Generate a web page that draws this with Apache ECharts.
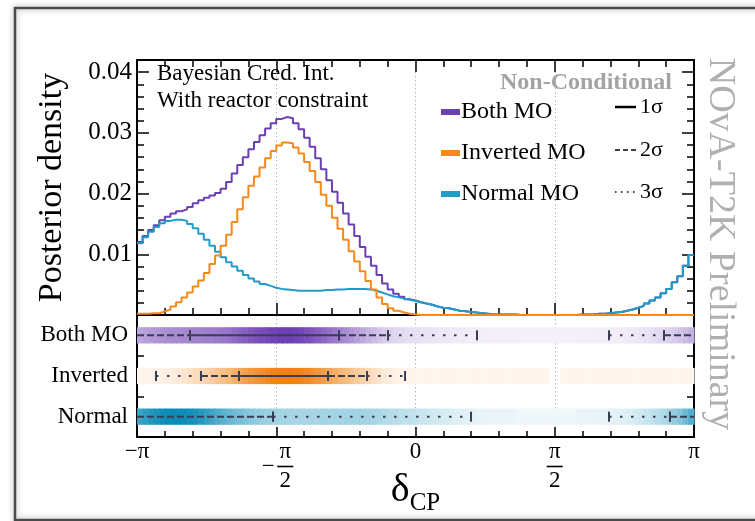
<!DOCTYPE html>
<html>
<head>
<meta charset="utf-8">
<script src="https://cdn.jsdelivr.net/npm/echarts@6/dist/echarts.min.js"></script>
<style>
  html, body { margin: 0; padding: 0; background: #fff; }
  #chart { width: 755px; height: 521px; }
</style>
</head>
<body>
<div id="chart"></div>
<script>
// 100 bins over [-pi, pi]
const N_BINS = 100
const BIN_W = 2 * Math.PI / N_BINS
const binEdges = Array.from({ length: N_BINS + 1 }, (_, i) => -Math.PI + i * BIN_W)

// posterior density per bin
const bothMO = [
  0.0120, 0.0130, 0.0140, 0.0148, 0.0156, 0.0162, 0.0167, 0.0171, 0.0174, 0.0178,
  0.0184, 0.0189, 0.0193, 0.0197, 0.0201, 0.0208, 0.0219, 0.0233, 0.0247, 0.0260,
  0.0273, 0.0285, 0.0296, 0.0307, 0.0316, 0.0323, 0.0326, 0.0324, 0.0316, 0.0306,
  0.0292, 0.0277, 0.0258, 0.0240, 0.0222, 0.0203, 0.0185, 0.0167, 0.0149, 0.0130,
  0.0112, 0.0096, 0.0081, 0.0066, 0.0052, 0.0042, 0.0035, 0.0030, 0.0026, 0.0024,
  0.0021, 0.0019, 0.0017, 0.0014, 0.0012, 0.0011, 0.0009, 0.0007, 0.0006, 0.0005,
  0.0004, 0.0003, 0.0002, 0.0001, 0.0001, 0.0001, 0.0001, 0.0001, 0.0000, 0.0000,
  0.0000, 0.0000, 0.0000, 0.0000, 0.0000, 0.0000, 0.0000, 0.0000, 0.0000, 0.0001,
  0.0001, 0.0001, 0.0002, 0.0002, 0.0003, 0.0004, 0.0005, 0.0007, 0.0009, 0.0012,
  0.0015, 0.0019, 0.0024, 0.0029, 0.0036, 0.0043, 0.0054, 0.0064, 0.0081, 0.0099
]
const invertedMO = [
  0.0002, 0.0002, 0.0003, 0.0003, 0.0006, 0.0009, 0.0014, 0.0021, 0.0029, 0.0037,
  0.0047, 0.0057, 0.0069, 0.0084, 0.0098, 0.0114, 0.0132, 0.0153, 0.0174, 0.0194,
  0.0213, 0.0228, 0.0243, 0.0258, 0.0270, 0.0279, 0.0284, 0.0283, 0.0276, 0.0266,
  0.0252, 0.0237, 0.0219, 0.0198, 0.0180, 0.0160, 0.0142, 0.0124, 0.0105, 0.0088,
  0.0072, 0.0056, 0.0042, 0.0029, 0.0018, 0.0011, 0.0007, 0.0004, 0.0002, 0.0001,
  0, 0, 0, 0, 0, 0, 0, 0, 0, 0,
  0, 0, 0, 0, 0, 0, 0, 0, 0, 0,
  0, 0, 0, 0, 0, 0, 0, 0, 0, 0,
  0, 0, 0, 0, 0, 0, 0, 0, 0, 0,
  0, 0, 0, 0, 0, 0, 0, 0, 0, 0
]
const normalMO = [
  0.0118, 0.0128, 0.0137, 0.0145, 0.0151, 0.0155, 0.0157, 0.0157, 0.0155, 0.0150,
  0.0143, 0.0134, 0.0124, 0.0114, 0.0104, 0.0095, 0.0087, 0.0080, 0.0073, 0.0066,
  0.0060, 0.0055, 0.0051, 0.0048, 0.0045, 0.0043, 0.0042, 0.0041, 0.0040, 0.0040,
  0.0040, 0.0040, 0.0040, 0.0041, 0.0041, 0.0042, 0.0042, 0.0043, 0.0043, 0.0043,
  0.0043, 0.0042, 0.0040, 0.0037, 0.0034, 0.0031, 0.0029, 0.0027, 0.0025, 0.0023,
  0.0021, 0.0019, 0.0017, 0.0014, 0.0012, 0.0011, 0.0009, 0.0007, 0.0006, 0.0005,
  0.0004, 0.0003, 0.0002, 0.0001, 0.0001, 0.0001, 0.0001, 0.0001, 0.0000, 0.0000,
  0.0000, 0.0000, 0.0000, 0.0000, 0.0000, 0.0000, 0.0000, 0.0000, 0.0000, 0.0001,
  0.0001, 0.0001, 0.0002, 0.0002, 0.0003, 0.0004, 0.0005, 0.0007, 0.0009, 0.0012,
  0.0015, 0.0019, 0.0024, 0.0029, 0.0036, 0.0043, 0.0054, 0.0064, 0.0081, 0.0099
]

// bins left blank in the Inverted band (gap near pi/2)
const invertedBandGap = [74, 75]

// rows of the lower panel, bottom to top
const rowNames = ['Normal', 'Inverted', 'Both MO']

// credible interval pieces: [from, to, sigma]
const bothIntervals = [
  [-Math.PI, -2.544, 2], [-2.544, -0.863, 1], [-0.863, -0.310, 2], [-0.310, 0.694, 3],
  [2.183, 2.803, 3], [2.803, Math.PI, 2]
]
const invertedIntervals = [
  [-2.927, -2.420, 3], [-2.420, -1.991, 2], [-1.991, -0.987, 1], [-0.987, -0.547, 2], [-0.547, -0.118, 3]
]
const normalIntervals = [
  [-Math.PI, -1.607, 2], [-1.607, 0.626, 3], [2.183, 2.871, 3], [2.871, Math.PI, 2]
]

// x tick labels at -pi, -pi/2, 0, pi/2, pi
const xTickLabels = [
  '−π',
  '{sp|}{n|π}\n{m|−}{bar|}\n{sp|}{d|2}',
  '0',
  '{n|π}\n{bar|}\n{d|2}',
  'π'
]
const yTickLabels = ['0.01', '0.02', '0.03', '0.04']

const SERIF = '"Liberation Serif", "DejaVu Serif", serif'
const COLORS = { both: '#6b40b2', inverted: '#f7891c', normal: '#1f9cc8' }
const BAND_RGB = { both: [110, 62, 180], inverted: [242, 128, 14], normal: [10, 140, 182] }
const CI_COLOR = '#3b3d55'

const chart = echarts.init(document.getElementById('chart'), null, { renderer: 'canvas' })

/**
 * histogram outline points for step:'end'
 */
function stepData(values) {
  const pts = values.map((v, i) => [binEdges[i], v])
  pts.push([Math.PI, values[values.length - 1]])
  return pts
}

/**
 * band cells for one row
 */
function bandData(values, row, gaps) {
  const max = Math.max(...values)
  const out = []
  values.forEach((v, i) => {
    if (gaps && gaps.includes(i)) return
    out.push([binEdges[i], binEdges[i + 1], row, v / max])
  })
  return out
}

// blend the base colour with white, opaque so neighbouring cells do not show seams
function tint(rgb, a) {
  const c = rgb.map(ch => Math.round(255 - (255 - ch) * a))
  return `rgb(${c[0]},${c[1]},${c[2]})`
}

function bandSeries(name, values, row, rgb, gaps) {
  return {
    name: name + ' band',
    type: 'custom',
    xAxisIndex: 2,
    yAxisIndex: 4,
    silent: true,
    data: bandData(values, row, gaps),
    renderItem: (params, api) => {
      const p0 = api.coord([api.value(0), api.value(2)])
      const p1 = api.coord([api.value(1), api.value(2)])
      const h = api.size([0, 1])[1] * 0.4
      const a = 0.07 + 0.93 * Math.pow(api.value(3), 0.85)
      return {
        type: 'rect',
        shape: { x: p0[0], y: p0[1] - h / 2, width: p1[0] - p0[0] + 0.6, height: h },
        style: { fill: tint(rgb, a) }
      }
    }
  }
}

function intervalSeries(pieces, row) {
  return {
    type: 'custom',
    xAxisIndex: 2,
    yAxisIndex: 4,
    silent: true,
    z: 5,
    data: pieces.map(p => [p[0], p[1], row, p[2]]),
    renderItem: (params, api) => {
      const lo = api.value(0)
      const hi = api.value(1)
      const p0 = api.coord([lo, api.value(2)])
      const p1 = api.coord([hi, api.value(2)])
      const sigma = api.value(3)
      const dash = sigma === 1 ? null : (sigma === 2 ? [7, 3] : [2.5, 8.5])
      const children = [{
        type: 'line',
        shape: { x1: p0[0], y1: p0[1], x2: p1[0], y2: p1[1] },
        style: { stroke: CI_COLOR, lineWidth: 2, lineDash: dash }
      }]
      const cap = 5
      if (lo > -Math.PI + 1e-6) {
        children.push({ type: 'line', shape: { x1: p0[0], y1: p0[1] - cap, x2: p0[0], y2: p0[1] + cap }, style: { stroke: CI_COLOR, lineWidth: 2 } })
      }
      if (hi < Math.PI - 1e-6) {
        children.push({ type: 'line', shape: { x1: p1[0], y1: p1[1] - cap, x2: p1[0], y2: p1[1] + cap }, style: { stroke: CI_COLOR, lineWidth: 2 } })
      }
      return { type: 'group', children }
    }
  }
}

function histSeries(name, values, color) {
  return {
    name,
    type: 'line',
    xAxisIndex: 0,
    yAxisIndex: 1,
    step: 'end',
    symbol: 'none',
    color,
    lineStyle: { width: 2, color },
    data: stepData(values)
  }
}

const axisLineStyle = { show: true, onZero: false, lineStyle: { color: '#000', width: 2 } }
const noAxisLine = { show: false, onZero: false }
const dottedGrid = { show: true, showMinLine: false, showMaxLine: false, lineStyle: { color: '#b8b8b8', type: [1.5, 2.5], width: 1 } }

function xAxisBase(gridIndex, position, major, minor) {
  return {
    type: 'value',
    gridIndex,
    position,
    min: -Math.PI,
    max: Math.PI,
    interval: Math.PI / 2,
    axisLine: axisLineStyle,
    axisTick: { show: true, inside: true, length: major, lineStyle: { color: '#000', width: 1.5 } },
    minorTick: { show: true, splitNumber: 5, length: minor, lineStyle: { color: '#000', width: 1.5 } },
    axisLabel: { show: false },
    splitLine: { show: false }
  }
}

function yAxisDensity(position, interval, tickLen, withLabels) {
  return {
    type: 'value',
    gridIndex: 0,
    position,
    min: 0,
    max: 0.042,
    interval,
    axisLine: interval === 0.01 ? axisLineStyle : noAxisLine,
    axisTick: { show: true, inside: true, length: tickLen, lineStyle: { color: '#000', width: 1.5 } },
    splitLine: { show: false },
    axisLabel: withLabels ? {
      show: true,
      margin: 5,
      fontFamily: SERIF,
      fontSize: 25,
      color: '#000',
      showMaxLabel: false,
      formatter: v => {
        const k = Math.round(v / 0.01)
        return (k >= 1 && k <= 4 && Math.abs(v - k * 0.01) < 1e-9) ? yTickLabels[k - 1] : ''
      }
    } : { show: false }
  }
}

const xBottom = xAxisBase(1, 'bottom', 10, 6)
xBottom.splitLine = dottedGrid
xBottom.axisLabel = {
  show: true,
  showMinLabel: true,
  showMaxLabel: true,
  margin: 3,
  fontFamily: SERIF,
  fontSize: 23,
  lineHeight: 24,
  color: '#000',
  formatter: v => xTickLabels[Math.round((v + Math.PI) / (Math.PI / 2))] || '',
  rich: {
    n: { fontFamily: SERIF, fontSize: 23, lineHeight: 24, width: 16, align: 'center' },
    d: { fontFamily: SERIF, fontSize: 23, lineHeight: 24, width: 16, align: 'center' },
    bar: { width: 16, height: 1.6, backgroundColor: '#000', lineHeight: 5 },
    m: { fontFamily: SERIF, fontSize: 23, width: 18, lineHeight: 5, align: 'center' },
    sp: { width: 18 }
  }
}
xBottom.name = '{d|δ}{s|CP}'
xBottom.nameLocation = 'middle'
xBottom.nameGap = 33
xBottom.nameMoveOverlap = false
xBottom.nameTextStyle = {
  rich: {
    d: { fontFamily: SERIF, fontSize: 40, color: '#000', verticalAlign: 'bottom', padding: [0, 0, 6, 0] },
    s: { fontFamily: SERIF, fontSize: 25, color: '#000', verticalAlign: 'bottom' }
  }
}

const xTop0 = xAxisBase(0, 'bottom', 12, 7)
xTop0.splitLine = dottedGrid
const xTop1 = xAxisBase(0, 'top', 12, 7)

const yMajorLeft = yAxisDensity('left', 0.01, 12, true)
yMajorLeft.name = 'Posterior density'
yMajorLeft.nameLocation = 'middle'
yMajorLeft.nameGap = 68
yMajorLeft.nameMoveOverlap = false
yMajorLeft.nameTextStyle = { fontFamily: SERIF, fontSize: 34, color: '#000' }

const option = {
  backgroundColor: '#fff',
  animation: false,
  grid: [
    { left: 137, top: 60, width: 557, height: 255 },
    { left: 137, top: 315, width: 557, height: 122 }
  ],
  xAxis: [xTop0, xTop1, xBottom],
  yAxis: [
    yAxisDensity('left', 0.002, 7, false),
    yMajorLeft,
    yAxisDensity('right', 0.002, 7, false),
    yAxisDensity('right', 0.01, 12, false),
    {
      type: 'category',
      gridIndex: 1,
      position: 'left',
      data: rowNames,
      axisLine: axisLineStyle,
      axisTick: { show: true, inside: true, length: 7, alignWithLabel: false, lineStyle: { color: '#000', width: 1.5 } },
      axisLabel: { margin: 9, fontFamily: SERIF, fontSize: 23, color: '#000' },
      splitLine: { show: false }
    },
    {
      type: 'category',
      gridIndex: 1,
      position: 'right',
      data: rowNames,
      axisLine: axisLineStyle,
      axisTick: { show: true, inside: true, length: 7, alignWithLabel: false, lineStyle: { color: '#000', width: 1.5 } },
      axisLabel: { show: false },
      splitLine: { show: false }
    }
  ],
  legend: {
    data: ['Both MO', 'Inverted MO', 'Normal MO'],
    orient: 'vertical',
    left: 436,
    top: 95,
    icon: 'rect',
    itemWidth: 19,
    itemHeight: 6,
    itemGap: 17,
    textStyle: { fontFamily: SERIF, fontSize: 24, color: '#000', padding: [0, 0, 0, -4] }
  },
  series: [
    histSeries('Both MO', bothMO, COLORS.both),
    histSeries('Normal MO', normalMO, COLORS.normal),
    histSeries('Inverted MO', invertedMO, COLORS.inverted),
    bandSeries('Both MO', bothMO, 2, BAND_RGB.both),
    bandSeries('Inverted MO', invertedMO, 1, BAND_RGB.inverted, invertedBandGap),
    bandSeries('Normal MO', normalMO, 0, BAND_RGB.normal),
    intervalSeries(bothIntervals, 2),
    intervalSeries(invertedIntervals, 1),
    intervalSeries(normalIntervals, 0)
  ],
  graphic: [
    // window frame
    {
      type: 'rect', z: -10, silent: true,
      shape: { x: 15, y: 8, width: 760, height: 512 },
      style: { fill: 'none', stroke: '#4a4a4a', lineWidth: 2.5, shadowBlur: 6, shadowColor: 'rgba(0,0,0,0.35)' }
    },
    { type: 'text', left: 157, top: 62, style: { text: 'Bayesian Cred. Int.', fontFamily: SERIF, fontSize: 23, fill: '#000' } },
    { type: 'text', left: 157, top: 89, style: { text: 'With reactor constraint', fontFamily: SERIF, fontSize: 23, fill: '#000' } },
    { type: 'text', right: 83, top: 71, style: { text: 'Non-Conditional', fontFamily: SERIF, fontSize: 24, fontWeight: 'bold', fill: '#a3a3a3' } },
    // sigma legend
    { type: 'line', shape: { x1: 615, y1: 107, x2: 636, y2: 107 }, style: { stroke: '#000', lineWidth: 2.5 } },
    { type: 'line', shape: { x1: 615, y1: 150, x2: 636, y2: 150 }, style: { stroke: '#000', lineWidth: 1.5, lineDash: [5, 3] } },
    { type: 'line', shape: { x1: 615, y1: 192, x2: 636, y2: 192 }, style: { stroke: '#000', lineWidth: 1.5, lineDash: [1.5, 4.5] } },
    { type: 'text', left: 640, top: 96, style: { text: '1σ', fontFamily: SERIF, fontSize: 22, fill: '#000' } },
    { type: 'text', left: 640, top: 139, style: { text: '2σ', fontFamily: SERIF, fontSize: 22, fill: '#000' } },
    { type: 'text', left: 640, top: 181, style: { text: '3σ', fontFamily: SERIF, fontSize: 22, fill: '#000' } },
    {
      type: 'text', x: 720, y: 244, rotation: -Math.PI / 2,
      style: { text: 'NOvA-T2K Preliminary', fontFamily: SERIF, fontSize: 38, fill: '#b0b0b0', align: 'center', verticalAlign: 'middle' }
    }
  ]
}

chart.setOption(option)
</script>
</body>
</html>
